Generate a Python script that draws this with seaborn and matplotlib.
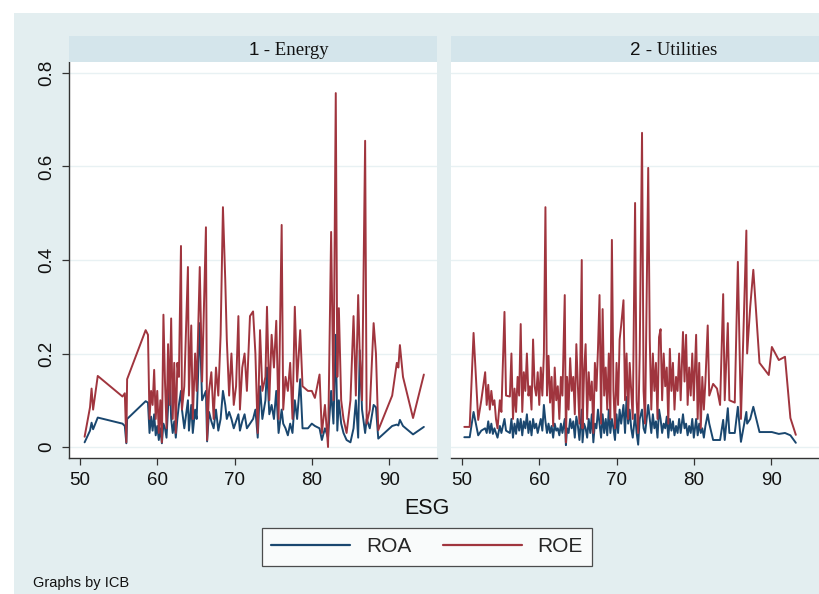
import matplotlib
matplotlib.use("Agg")
from matplotlib import pyplot as plt
from matplotlib.patches import Rectangle
from matplotlib.lines import Line2D
import pandas as pd
import seaborn as sns

# 1 - Energy
energy_esg = [50.6, 51.3, 51.5, 51.7, 52.3, 55.5, 55.8, 56.0, 56.1, 58.5, 58.8, 59.0,
              59.2, 59.4, 59.6, 59.8, 60.0, 60.2, 60.4, 60.6, 60.8, 61.0, 61.2, 61.4,
              61.6, 61.8, 62.0, 62.2, 62.4, 62.6, 62.8, 63.07, 63.2, 63.5, 63.97, 64.1,
              64.4, 64.6, 64.9, 65.1, 65.5, 65.8, 66.3, 66.45, 66.7, 67.0, 67.3, 67.6,
              67.9, 68.2, 68.5, 68.8, 69.0, 69.3, 69.6, 69.9, 70.2, 70.5, 70.7, 71.0,
              71.3, 71.6, 72.0, 72.4, 72.7, 73.0, 73.3, 73.6, 74.0, 74.2, 74.5, 74.8,
              75.1, 75.4, 75.7, 76.1, 76.3, 76.6, 76.9, 77.2, 77.5, 77.8, 78.1, 78.5,
              78.8, 79.5, 80.0, 80.4, 81.0, 81.3, 81.7, 82.1, 82.5, 82.8, 83.1, 83.3,
              83.5, 83.8, 84.1, 84.5, 85.0, 85.4, 85.7, 86.0, 86.2, 86.5, 86.9, 87.1,
              87.5, 88.0, 88.3, 88.6, 90.4, 91.0, 91.2, 91.4, 91.8, 93.1, 94.5]
energy_roe = [0.022, 0.085, 0.125, 0.080, 0.152, 0.108, 0.115, 0.010, 0.145, 0.250, 0.240, 0.060,
              0.120, 0.090, 0.165, 0.060, 0.120, 0.030, 0.100, 0.010, 0.283, 0.140, 0.040, 0.220,
              0.090, 0.275, 0.060, 0.180, 0.030, 0.180, 0.150, 0.430, 0.080, 0.130, 0.385, 0.110,
              0.260, 0.060, 0.200, 0.120, 0.385, 0.140, 0.470, 0.015, 0.120, 0.160, 0.060, 0.170,
              0.110, 0.240, 0.513, 0.357, 0.230, 0.110, 0.200, 0.090, 0.130, 0.280, 0.080, 0.170,
              0.200, 0.120, 0.280, 0.290, 0.200, 0.030, 0.250, 0.120, 0.150, 0.300, 0.100, 0.240,
              0.170, 0.270, 0.060, 0.475, 0.080, 0.150, 0.120, 0.180, 0.060, 0.300, 0.140, 0.250,
              0.130, 0.120, 0.120, 0.105, 0.155, 0.030, 0.090, 0.000, 0.460, 0.100, 0.757, 0.150,
              0.297, 0.100, 0.060, 0.030, 0.100, 0.280, 0.110, 0.325, 0.200, 0.100, 0.655, 0.050,
              0.080, 0.265, 0.200, 0.036, 0.110, 0.180, 0.170, 0.218, 0.150, 0.062, 0.155]
energy_roa = [0.010, 0.035, 0.052, 0.038, 0.063, 0.050, 0.045, 0.008, 0.060, 0.098, 0.095, 0.030,
              0.065, 0.035, 0.070, 0.025, 0.045, 0.015, 0.040, 0.008, 0.050, 0.040, 0.020, 0.085,
              0.160, 0.060, 0.030, 0.055, 0.020, 0.060, 0.090, 0.120, 0.080, 0.040, 0.100, 0.035,
              0.090, 0.030, 0.080, 0.060, 0.265, 0.100, 0.120, 0.012, 0.075, 0.055, 0.040, 0.080,
              0.035, 0.060, 0.120, 0.090, 0.060, 0.075, 0.060, 0.040, 0.055, 0.070, 0.035, 0.055,
              0.070, 0.040, 0.050, 0.060, 0.080, 0.020, 0.130, 0.060, 0.100, 0.170, 0.070, 0.090,
              0.060, 0.120, 0.030, 0.080, 0.050, 0.040, 0.025, 0.050, 0.030, 0.100, 0.060, 0.145,
              0.040, 0.040, 0.050, 0.045, 0.040, 0.015, 0.040, 0.020, 0.120, 0.050, 0.240, 0.035,
              0.100, 0.050, 0.030, 0.015, 0.010, 0.040, 0.100, 0.020, 0.207, 0.080, 0.030, 0.060,
              0.040, 0.090, 0.085, 0.018, 0.045, 0.048, 0.046, 0.058, 0.045, 0.027, 0.043]

# 2 - Utilities
util_esg = [50.3, 51.0, 51.5, 52.1, 52.5, 53.0, 53.2, 53.4, 53.6, 53.8, 54.0, 54.2,
            54.4, 54.6, 54.9, 55.1, 55.5, 55.7, 56.2, 56.4, 56.6, 56.8, 57.0, 57.2,
            57.4, 57.6, 57.8, 58.0, 58.2, 58.4, 58.6, 58.8, 59.0, 59.2, 59.4, 59.6,
            59.8, 60.0, 60.2, 60.4, 60.6, 60.8, 61.0, 61.2, 61.4, 61.6, 61.8, 62.0,
            62.2, 62.4, 62.6, 62.8, 63.0, 63.3, 63.45, 63.6, 63.8, 64.0, 64.2, 64.4,
            64.6, 64.8, 65.0, 65.2, 65.5, 65.6, 65.8, 66.0, 66.2, 66.4, 66.6, 66.8,
            67.0, 67.2, 67.4, 67.6, 67.8, 68.0, 68.2, 68.4, 68.6, 68.8, 69.0, 69.2,
            69.4, 69.6, 69.8, 70.0, 70.2, 70.4, 70.6, 70.9, 71.1, 71.3, 71.5, 71.7,
            71.9, 72.1, 72.4, 72.6, 72.8, 73.0, 73.3, 73.5, 73.7, 74.1, 74.3, 74.5,
            74.7, 74.9, 75.1, 75.3, 75.5, 75.7, 75.9, 76.1, 76.3, 76.5, 76.7, 76.9,
            77.1, 77.3, 77.5, 77.7, 77.9, 78.1, 78.3, 78.6, 78.8, 79.0, 79.2, 79.4,
            79.6, 79.8, 80.0, 80.3, 80.5, 80.7, 80.9, 81.1, 81.3, 81.5, 81.8, 82.0,
            82.5, 83.0, 83.4, 83.8, 84.0, 84.4, 84.6, 85.3, 85.7, 86.1, 86.8, 86.9,
            87.3, 87.7, 88.5, 89.7, 90.1, 91.0, 91.8, 92.5, 93.2]
util_roe = [0.043, 0.043, 0.244, 0.058, 0.100, 0.160, 0.090, 0.133, 0.080, 0.120, 0.090, 0.100,
            0.060, 0.040, 0.100, 0.075, 0.289, 0.110, 0.108, 0.200, 0.060, 0.125, 0.075, 0.150,
            0.110, 0.263, 0.075, 0.160, 0.120, 0.200, 0.110, 0.130, 0.080, 0.230, 0.130, 0.110,
            0.160, 0.090, 0.170, 0.110, 0.200, 0.513, 0.110, 0.195, 0.095, 0.150, 0.045, 0.170,
            0.100, 0.130, 0.060, 0.150, 0.110, 0.325, 0.010, 0.150, 0.080, 0.190, 0.120, 0.150,
            0.070, 0.220, 0.130, 0.050, 0.400, 0.040, 0.160, 0.220, 0.060, 0.160, 0.100, 0.140,
            0.030, 0.180, 0.120, 0.210, 0.325, 0.050, 0.295, 0.110, 0.170, 0.080, 0.200, 0.060,
            0.443, 0.120, 0.040, 0.180, 0.090, 0.230, 0.260, 0.314, 0.100, 0.200, 0.060, 0.180,
            0.120, 0.060, 0.522, 0.100, 0.030, 0.200, 0.672, 0.120, 0.050, 0.597, 0.230, 0.080,
            0.200, 0.120, 0.180, 0.060, 0.235, 0.252, 0.100, 0.200, 0.130, 0.170, 0.050, 0.210,
            0.120, 0.180, 0.080, 0.150, 0.120, 0.200, 0.100, 0.246, 0.140, 0.240, 0.090, 0.170,
            0.110, 0.200, 0.100, 0.240, 0.060, 0.180, 0.040, 0.150, 0.080, 0.140, 0.260, 0.110,
            0.135, 0.125, 0.090, 0.327, 0.100, 0.265, 0.100, 0.095, 0.396, 0.060, 0.463, 0.200,
            0.300, 0.379, 0.180, 0.154, 0.214, 0.186, 0.193, 0.062, 0.026]
util_roa = [0.021, 0.021, 0.075, 0.025, 0.035, 0.040, 0.030, 0.055, 0.030, 0.050, 0.028, 0.040,
            0.030, 0.020, 0.045, 0.030, 0.060, 0.035, 0.030, 0.060, 0.020, 0.050, 0.028, 0.060,
            0.035, 0.060, 0.025, 0.055, 0.040, 0.070, 0.030, 0.055, 0.025, 0.060, 0.040, 0.050,
            0.030, 0.045, 0.060, 0.035, 0.090, 0.055, 0.030, 0.050, 0.030, 0.045, 0.020, 0.050,
            0.035, 0.040, 0.025, 0.050, 0.030, 0.060, 0.004, 0.040, 0.030, 0.060, 0.040, 0.055,
            0.020, 0.065, 0.045, 0.015, 0.080, 0.010, 0.050, 0.040, 0.020, 0.060, 0.030, 0.070,
            0.010, 0.050, 0.040, 0.080, 0.050, 0.020, 0.070, 0.030, 0.060, 0.025, 0.080, 0.030,
            0.060, 0.040, 0.015, 0.070, 0.030, 0.080, 0.050, 0.090, 0.030, 0.107, 0.050, 0.080,
            0.040, 0.020, 0.070, 0.030, 0.005, 0.060, 0.080, 0.040, 0.030, 0.090, 0.060, 0.030,
            0.070, 0.040, 0.055, 0.020, 0.080, 0.060, 0.030, 0.050, 0.040, 0.065, 0.020, 0.060,
            0.035, 0.055, 0.025, 0.045, 0.030, 0.060, 0.030, 0.070, 0.040, 0.050, 0.025, 0.045,
            0.030, 0.060, 0.020, 0.060, 0.025, 0.050, 0.030, 0.040, 0.020, 0.045, 0.070, 0.050,
            0.015, 0.015, 0.015, 0.058, 0.015, 0.083, 0.030, 0.030, 0.086, 0.011, 0.075, 0.050,
            0.060, 0.086, 0.032, 0.032, 0.032, 0.028, 0.030, 0.025, 0.009]

panels = [("1", " - Energy", energy_esg, energy_roa, energy_roe),
          ("2", " - Utilities", util_esg, util_roa, util_roe)]

navy = "#1A476F"
maroon = "#A0353E"
outer_bg = "#E3EEF0"
strip_bg = "#D4E5EB"
grid_c = "#E8F1F3"

sns.set_style("white")
plt.rcParams["font.family"] = ["Liberation Sans Narrow", "Liberation Sans", "DejaVu Sans"]

W, H = 819, 594
fig = plt.figure(figsize=(W / 100, H / 100), dpi=100, facecolor="white")
fig.patches.append(Rectangle((14 / W, 0), 1, 1 - 13 / H, transform=fig.transFigure,
                             facecolor=outer_bg, edgecolor="none", zorder=-10))

lefts = [69, 451]
pw = 368
ptop, pbot = 62, 458
for i, (num, name, esg, roa, roe) in enumerate(panels):
    x0 = lefts[i]
    ax = fig.add_axes([x0 / W, 1 - pbot / H, pw / W, (pbot - ptop) / H])
    ax.set_facecolor("white")
    df = pd.DataFrame({"ESG": esg * 2, "value": roa + roe,
                       "measure": ["ROA"] * len(esg) + ["ROE"] * len(esg)})
    sns.lineplot(data=df, x="ESG", y="value", hue="measure", estimator=None, sort=True,
                 palette={"ROA": navy, "ROE": maroon}, linewidth=1.4, legend=False, ax=ax)
    ax.set_xlim(48.58, 96.2)
    ax.set_ylim(-0.0235, 0.8235)
    ax.set_xticks([50, 60, 70, 80, 90])
    ax.set_yticks([0, 0.2, 0.4, 0.6, 0.8])
    ax.set_yticklabels(["0", "0.2", "0.4", "0.6", "0.8"])
    for yv in [0, 0.2, 0.4, 0.6, 0.8]:
        ax.axhline(yv, color=grid_c, lw=1.0, zorder=0)
    ax.set_xlabel("")
    ax.set_ylabel("")
    for s in ["top", "right"]:
        ax.spines[s].set_visible(False)
    ax.spines["bottom"].set_color("#333333")
    ax.spines["bottom"].set_linewidth(1.0)
    ax.tick_params(axis="x", direction="out", length=5, width=0.9, color="#333333",
                   pad=5, labelsize=13.5, labelcolor="#111111", bottom=True)
    if i == 0:
        ax.spines["left"].set_color("#333333")
        ax.spines["left"].set_linewidth(1.0)
        ax.tick_params(axis="y", direction="out", length=5, width=0.9, color="#333333",
                       pad=5, labelsize=13.5, labelcolor="#111111", left=True)
        for lab in ax.get_yticklabels():
            lab.set_rotation(90)
            lab.set_va("center")
    else:
        ax.spines["left"].set_visible(False)
        ax.tick_params(axis="y", left=False, labelleft=False)

    # strip header
    sax = fig.add_axes([x0 / W, 1 - ptop / H, pw / W, 26 / H])
    sax.set_facecolor(strip_bg)
    sax.set_xticks([])
    sax.set_yticks([])
    for s in sax.spines.values():
        s.set_visible(False)
    t1 = sax.text(0.487, 0.45, num, ha="left", va="center", fontsize=13.5,
                  family=["Liberation Sans", "DejaVu Sans"], color="#111111")
    sax.annotate(name, xy=(1, 0), xycoords=t1, xytext=(0, 0), textcoords="offset points",
                 ha="left", va="bottom", fontsize=13.5, family=["Liberation Serif", "DejaVu Serif"],
                 color="#111111")

fig.text(427 / W, 1 - 509 / H, "ESG", ha="center", va="center", fontsize=15.5, color="#111111")

handles = [Line2D([], [], color=navy, lw=1.6), Line2D([], [], color=maroon, lw=1.6)]
leg = fig.legend(handles, ["ROA", "ROE"], loc="center", bbox_to_anchor=(427 / W, 1 - 547 / H),
                 ncol=2, frameon=True, fancybox=False, fontsize=15, handlelength=3.8,
                 columnspacing=1.5, handletextpad=0.75, borderpad=0.45, borderaxespad=0)
leg.get_frame().set_edgecolor("#222222")
leg.get_frame().set_linewidth(0.9)
leg.get_frame().set_facecolor("white")

fig.text(33 / W, 1 - 583 / H, "Graphs by ICB", ha="left", va="center", fontsize=10.5, color="#111111")

fig.savefig("out.png", dpi=100, facecolor=fig.get_facecolor())
